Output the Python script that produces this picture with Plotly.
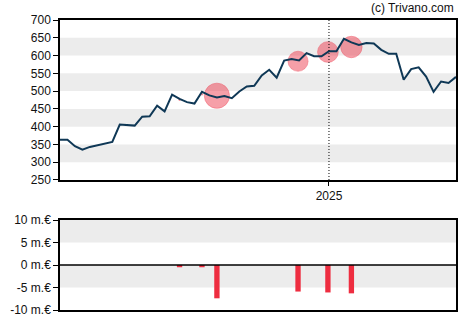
import datetime as dt
import plotly.graph_objects as go

# Weekly closing prices (EUR)
start = dt.date(2024, 4, 24)
prices = [363, 363, 345, 335, 343, 348, 352, 357, 406, 405,
          403, 428, 429, 459, 443, 490, 478, 469, 465, 498,
          488, 482, 486, 480, 499, 513, 515, 544, 560, 538,
          586, 590, 586, 607, 598, 598, 612, 612, 647, 637,
          630, 635, 634, 616, 605, 605, 532, 562, 567, 541,
          498, 527, 523, 540]
dates = [start + dt.timedelta(days=7 * i) for i in range(len(prices))]

# Insider transactions: date, price, volume (million EUR)
trade_dates = ["2024-08-14", "2024-09-04", "2024-09-18",
               "2024-12-03", "2024-12-31", "2025-01-22"]
trade_prices = [476, 491, 487, 584, 610, 624]
trade_volumes = [-0.5, -0.5, -7.4, -5.9, -6.1, -6.3]

price_ticks = [250, 300, 350, 400, 450, 500, 550, 600, 650, 700]
vol_ticks = [-10, -5, 0, 5, 10]
vol_labels = [f"{v} m.€" for v in vol_ticks]

RED = "rgba(236,36,56,0.62)"
NAVY = "#0f3856"
BAND = "#ececec"

fig = go.Figure()

# transaction bubbles sit under the price line
fig.add_trace(go.Scatter(
    x=trade_dates, y=trade_prices, mode="markers",
    marker=dict(size=[3.4 * abs(v) for v in trade_volumes], color=RED,
                line=dict(color="rgba(236,36,56,0.5)", width=1)),
    xaxis="x", yaxis="y"))

fig.add_trace(go.Scatter(
    x=dates, y=prices, mode="lines",
    line=dict(color=NAVY, width=2), xaxis="x", yaxis="y",
    hoverinfo="skip"))

fig.add_trace(go.Bar(
    x=trade_dates, y=trade_volumes, marker_color="#ee2d40",
    marker_line_width=0,
    width=5 * 86400000, xaxis="x2", yaxis="y2"))

shapes = []
# alternating horizontal bands on the price panel
for lo in price_ticks[1:-1:2]:
    shapes.append(dict(type="rect", xref="x domain", yref="y",
                       x0=0, x1=1, y0=lo, y1=lo + 50,
                       fillcolor=BAND, line_width=0, layer="below"))
# bands on the volume panel
for lo in (5, -5):
    shapes.append(dict(type="rect", xref="x2 domain", yref="y2",
                       x0=0, x1=1, y0=lo, y1=lo + 5,
                       fillcolor=BAND, line_width=0, layer="below"))
# year divider
shapes.append(dict(type="line", xref="x", yref="y domain",
                   x0="2025-01-01", x1="2025-01-01", y0=0, y1=1,
                   line=dict(color="black", width=1, dash="1px,2px")))
# zero line on volume panel
shapes.append(dict(type="line", xref="x2 domain", yref="y2",
                   x0=0, x1=1, y0=0, y1=0,
                   line=dict(color="black", width=1.5)))

xrange = [dates[0], dates[-1]]
axis_font = dict(family="Liberation Sans, Arial, sans-serif", size=12, color="#111")

common = dict(showline=True, linecolor="black", linewidth=1.5, mirror=True,
              showgrid=False, zeroline=False, automargin=False)

fig.update_layout(
    width=470, height=325,
    margin=dict(l=60, r=14, t=20, b=15),
    paper_bgcolor="white", plot_bgcolor="white",
    showlegend=False,
    font=axis_font,
    shapes=shapes,
    xaxis=dict(domain=[0, 1], anchor="y", range=xrange, type="date",
               tickvals=["2025-01-01"], ticktext=["2025"],
               ticks="outside", ticklen=4, tickcolor="black",
               tickfont=axis_font, **common),
    yaxis=dict(domain=[0.4483, 1], anchor="x", range=[250, 700],
               tickvals=price_ticks, ticks="outside", ticklen=5,
               tickcolor="black", tickfont=axis_font, **common),
    xaxis2=dict(domain=[0, 1], anchor="y2", range=xrange, type="date",
                showticklabels=False, ticks="", **common),
    yaxis2=dict(domain=[0, 0.3103], anchor="x2", range=[-10, 10],
                tickvals=vol_ticks, ticktext=vol_labels,
                ticks="outside", ticklen=5, tickcolor="black",
                tickfont=axis_font, **common),
    annotations=[dict(text="(c) Trivano.com", xref="paper", yref="paper",
                      x=1, y=1, xanchor="right", yanchor="bottom", yshift=3,
                      showarrow=False,
                      font=dict(family="Liberation Sans, Arial, sans-serif",
                                size=12, color="#111"))],
)

fig.write_html("out.html")
